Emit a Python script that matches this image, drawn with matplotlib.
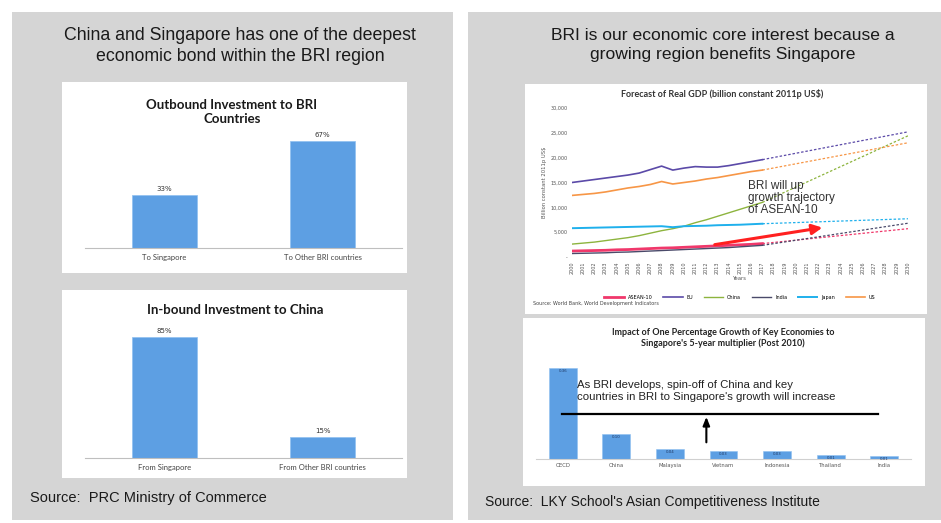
import numpy as np
import matplotlib
matplotlib.use("Agg")
import matplotlib.pyplot as plt
from matplotlib.patches import Rectangle

W, H = 941, 523

# ---- data ----
out_cats = ["To Singapore", "To Other BRI countries"]
out_vals = [33, 67]
in_cats = ["From Singapore", "From Other BRI countries"]
in_vals = [85, 15]

years = list(range(2000, 2018))
eu = [15000, 15300, 15600, 15900, 16200, 16500, 16900, 17600, 18300, 17500,
      17900, 18200, 18100, 18100, 18400, 18800, 19200, 19600]
us = [12400, 12600, 12800, 13100, 13500, 13900, 14200, 14600, 15200, 14700,
      15000, 15300, 15700, 16000, 16400, 16800, 17200, 17500]
china = [2600, 2800, 3000, 3300, 3600, 3900, 4300, 4800, 5300, 5700,
         6200, 6900, 7500, 8200, 8900, 9600, 10300, 11000]
japan = [5800, 5850, 5900, 5950, 6000, 6050, 6100, 6150, 6200, 6000,
         6200, 6250, 6300, 6400, 6450, 6500, 6600, 6700]
asean = [1200, 1250, 1300, 1350, 1450, 1500, 1600, 1700, 1800, 1850,
         1950, 2050, 2150, 2250, 2350, 2450, 2550, 2700]
india = [700, 750, 800, 850, 950, 1000, 1100, 1200, 1300, 1400,
         1500, 1600, 1700, 1800, 1900, 2050, 2200, 2350]
fc_years = [2017, 2030]
eu_fc = [19600, 25200]
us_fc = [17500, 23000]
china_fc = [11000, 24400]
japan_fc = [6700, 7700]
asean_fc = [2700, 5700]
india_fc = [2350, 6800]

imp_cats = ["OECD", "China", "Malaysia", "Vietnam", "Indonesia", "Thailand", "India"]
imp_vals = [0.36, 0.10, 0.04, 0.03, 0.03, 0.015, 0.012]

fig = plt.figure(figsize=(W / 100, H / 100), dpi=100)
fig.patch.set_facecolor("white")


def box(x0, y0, x1, y1, color):
    fig.add_artist(Rectangle((x0 / W, 1 - y1 / H), (x1 - x0) / W, (y1 - y0) / H,
                             transform=fig.transFigure, facecolor=color,
                             edgecolor="none", zorder=0))


def pax(x0, y0, x1, y1):
    ax = fig.add_axes([x0 / W, 1 - y1 / H, (x1 - x0) / W, (y1 - y0) / H])
    ax.patch.set_alpha(0)
    return ax


def txt(x, y, s, **kw):
    fig.text(x / W, 1 - y / H, s, **kw)


gray = "#d5d5d5"
box(12, 12, 453, 520, gray)
box(468, 12, 941, 520, gray)
box(62, 82, 407, 273, "white")
box(62, 290, 407, 478, "white")
box(525, 84, 927, 314, "white")
box(523, 318, 925, 486, "white")

sans = "Liberation Sans"
txt(240, 46, "China and Singapore has one of the deepest\neconomic bond within the BRI region",
    ha="center", va="center", fontsize=12.8, family=sans, color="#1a1a1a", linespacing=1.25)
txt(723, 45, "BRI is our economic core interest because a\ngrowing region benefits Singapore",
    ha="center", va="center", fontsize=12.6, family=sans, color="#1a1a1a", linespacing=1.25)
txt(30, 498, "Source:  PRC Ministry of Commerce", ha="left", va="center",
    fontsize=10.5, family=sans, color="#1a1a1a")
txt(485, 502, "Source:  LKY School's Asian Competitiveness Institute", ha="left", va="center",
    fontsize=10, family=sans, color="#1a1a1a")

bar_col = "#5d9fe3"


def simple_bars(ax, cats, vals):
    ax.bar(range(len(vals)), vals, width=0.41, color=bar_col, edgecolor="#8fc0f0", linewidth=0.5)
    for i, v in enumerate(vals):
        ax.text(i, v + 2, f"{v}%", ha="center", va="bottom", fontsize=5, color="#333333")
    ax.set_xlim(-0.5, 1.5)
    ax.set_xticks(range(len(cats)))
    ax.set_xticklabels(cats, fontsize=5.5, color="#444444", family="Lato")
    ax.tick_params(axis="x", length=0, pad=4)
    ax.set_yticks([])
    for s in ["top", "left", "right"]:
        ax.spines[s].set_visible(False)
    ax.spines["bottom"].set_color("#bfbfbf")


# Outbound
ax1 = pax(85, 120, 402, 248)
ax1.set_ylim(0, 80)
simple_bars(ax1, out_cats, out_vals)
txt(232, 112, "Outbound Investment to BRI\nCountries", ha="center", va="center",
    fontsize=9.5, fontweight="bold", family="Lato", color="#1a1a1a", linespacing=1.15)

# Inbound
ax2 = pax(85, 323, 402, 458)
ax2.set_ylim(0, 95)
simple_bars(ax2, in_cats, in_vals)
txt(235, 310, "In-bound Investment to China", ha="center", va="center",
    fontsize=9.5, fontweight="bold", family="Lato", color="#1a1a1a")

# GDP forecast
ax3 = pax(572, 108, 908, 257)
series = [("ASEAN-10", asean, asean_fc, "#f0386b", 2.0),
          ("EU", eu, eu_fc, "#5b4aa8", 1.2),
          ("China", china, china_fc, "#8db43e", 1.0),
          ("India", india, india_fc, "#4a4a6a", 1.0),
          ("Japan", japan, japan_fc, "#1fb0ec", 1.4),
          ("US", us, us_fc, "#f79646", 1.2)]
for name, vals, fc, col, lw in series:
    ax3.plot(years, vals, color=col, lw=lw, label=name)
    ax3.plot(fc_years, fc, color=col, lw=0.9, ls=(0, (2, 1.5)))
ax3.set_xlim(2000, 2030)
ax3.set_ylim(0, 30000)
ax3.set_yticks(range(0, 30001, 5000))
ax3.set_yticklabels(["-"] + [f"{v:,}" for v in range(5000, 30001, 5000)],
                    fontsize=3.5, color="#555555")
ax3.set_xticks(range(2000, 2031))
ax3.set_xticklabels([str(y) for y in range(2000, 2031)], rotation=90,
                    fontsize=3.5, color="#555555")
ax3.tick_params(length=0, pad=3)
for s in ax3.spines.values():
    s.set_visible(False)
ax3.set_ylabel("Billion constant 2011p US$", fontsize=3.8, color="#555555", labelpad=3)
ax3.set_xlabel("Years", fontsize=3.8, color="#555555", labelpad=2)
ax3.legend(loc="center", bbox_to_anchor=(0.5, -0.27), ncol=6, fontsize=3.5,
           frameon=False, handlelength=4, columnspacing=2.2)
txt(722, 94, "Forecast of Real GDP (billion constant 2011p US$)", ha="center",
    va="center", fontsize=6.5, fontweight="bold", family="Lato", color="#333333")
txt(533, 304, "Source: World Bank, World Development Indicators", ha="left",
    va="center", fontsize=3.5, color="#444444")
txt(748, 198, "BRI will up\ngrowth trajectory\nof ASEAN-10", ha="left", va="center",
    fontsize=8.5, family=sans, color="#333333", linespacing=1.0)
ax3.annotate("", xy=(2022.6, 6000), xytext=(2012.5, 2400),
             arrowprops=dict(arrowstyle="-|>,head_length=0.6,head_width=0.3",
                             color="#ff2020", lw=2.2))

# Impact multiplier
ax4 = pax(536, 358, 911, 459)
xs = np.arange(len(imp_vals))
ax4.bar(xs, imp_vals, width=0.52, color=bar_col, edgecolor="#8fc0f0", linewidth=0.4)
for i, v in enumerate(imp_vals):
    ax4.text(i, v - 0.004, f"{v:.2f}", ha="center", va="top", fontsize=2.8, color="#1f3864")
ax4.set_xlim(-0.5, 6.5)
ax4.set_ylim(0, 0.4)
ax4.set_xticks(xs)
ax4.set_xticklabels(imp_cats, fontsize=3.8, color="#555555")
ax4.tick_params(axis="x", length=0, pad=3)
ax4.set_yticks([])
for s in ["top", "left", "right"]:
    ax4.spines[s].set_visible(False)
ax4.spines["bottom"].set_color("#d0d0d0")
txt(723, 338, "Impact of One Percentage Growth of Key Economies to\nSingapore's 5-year multiplier (Post 2010)",
    ha="center", va="center", fontsize=6.5, fontweight="bold", family="Lato",
    color="#222222", linespacing=1.3)
txt(577, 391, "As BRI develops, spin-off of China and key\ncountries in BRI to Singapore's growth will increase",
    ha="left", va="center", fontsize=8.2, family=sans, color="#222222", linespacing=1.2)
fig.add_artist(plt.Line2D([562 / W, 878 / W], [1 - 414 / H, 1 - 414 / H],
                          transform=fig.transFigure, color="black", lw=1.6))
ax4.annotate("", xy=(2.68, 0.178), xytext=(2.68, 0.055),
             arrowprops=dict(arrowstyle="-|>,head_length=0.5,head_width=0.2",
                             color="black", lw=1.5))

fig.savefig("out.png", dpi=100)
